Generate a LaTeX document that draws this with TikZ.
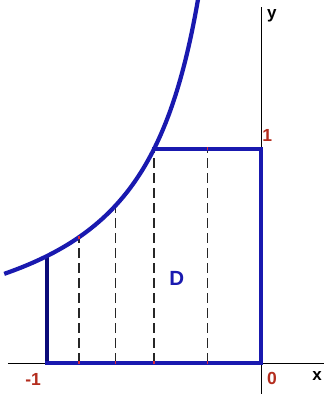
\documentclass[tikz,border=0pt]{standalone}
\usepackage{fontspec}
\setmainfont{Liberation Sans}
\definecolor{curveblue}{RGB}{25,25,175}
\definecolor{navyblue}{RGB}{10,10,120}
\definecolor{labelred}{RGB}{180,45,30}
\definecolor{tickred}{RGB}{215,40,60}
\tikzset{
  axisline/.style={black, line width=0.9pt},
  bluebound/.style={curveblue, line width=4pt, line cap=rect},
  navybound/.style={navyblue, line width=4pt},
  curveline/.style={curveblue, line width=4.2pt},
  dashline/.style={black!85, line width=1.2pt, dash pattern=on 10pt off 5pt},
  redtick/.style={tickred, line width=1.2pt},
  numlabel/.style={labelred, font=\fontsize{17.5}{17.5}\selectfont\bfseries, inner sep=0pt},
  axislabel/.style={black, font=\fontsize{17}{17}\selectfont\bfseries, inner sep=0pt},
  regionlabel/.style={curveblue, font=\fontsize{20.5}{20.5}\selectfont\bfseries, inner sep=0pt}
}
\begin{document}
\begin{tikzpicture}[x=214pt,y=214pt]
\useasboundingbox (-1.21963,-0.14486) rectangle (0.29439,1.69626);
\fill[white] (-1.21963,-0.14486) rectangle (0.29439,1.69626);
% coordinates
\coordinate (xl) at (-1.183,0);
\coordinate (xr) at (0.29439,0);
\coordinate (yb) at (0,-0.14486);
\coordinate (yt) at (0,1.664);
\coordinate (O) at (0,0);
\coordinate (A) at (-1,0);
\coordinate (B) at (-1,0.5);
\coordinate (C) at (-0.5,1);
\coordinate (E) at (0,1);
\coordinate (d1b) at (-0.85,0);
\coordinate (d1t) at (-0.85,{1/1.7});
\coordinate (d2b) at (-0.68,0);
\coordinate (d2t) at (-0.68,{1/1.36});
\coordinate (d3b) at (-0.5,0);
\coordinate (d3t) at (-0.5,1);
\coordinate (d4b) at (-0.25,0);
\coordinate (d4t) at (-0.25,1);
% axes
\draw[axisline] (xl) -- (xr);
\draw[axisline] (yb) -- (yt);
% dashed verticals
\draw[dashline] (d1b) -- (d1t);
\draw[dashline] (d2b) -- (d2t);
\draw[dashline] (d3b) -- (d3t);
\draw[dashline] (d4b) -- (d4t);
% region boundary
\draw[navybound] (A) -- (B);
\draw[bluebound] (A) -- (O) -- (E) -- (C);
% curve y = -1/(2x)
\draw[curveline] plot[domain=-1.2:-0.293, samples=120] (\x,{-1/(2*\x)});
% red ticks
\foreach \c in {d1b,d2b,d3b,d4b,d4t,d1t}
  \draw[redtick] ([yshift=-1.5pt]\c) -- ([yshift=1.5pt]\c);
% labels
\node[numlabel] (lm1) at (-1.065,-0.079) {-1};
\node[numlabel] (l0) at (0.051,-0.072) {0};
\node[numlabel] (l1) at (0.029,1.065) {1};
\node[axislabel] (lx) at (0.262,-0.061) {x};
\node[axislabel] (ly) at (0.051,1.621) {y};
\node[regionlabel] (lD) at (-0.393,0.397) {D};
\end{tikzpicture}
\end{document}
